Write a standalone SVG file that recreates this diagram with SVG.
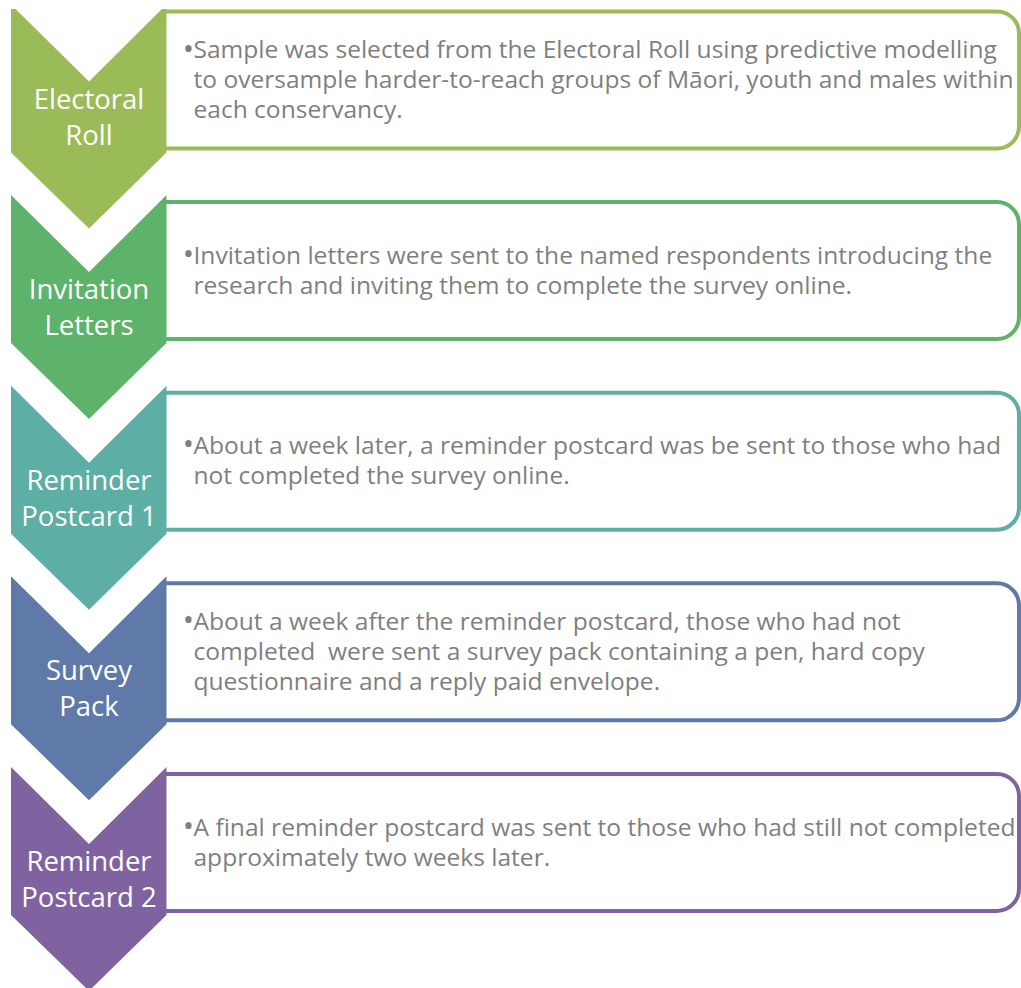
<svg xmlns="http://www.w3.org/2000/svg" width="1021" height="988" viewBox="0 0 1021 988">
<style>
.lbl{font-family:"Open Sans","Liberation Sans",sans-serif;font-size:27.5px;fill:#ffffff;text-anchor:middle}
.txt{font-family:"Open Sans","Liberation Sans",sans-serif;font-size:23px;fill:#7f7f7f}
.bul{font-family:"Open Sans","Liberation Sans",sans-serif;font-size:30px;fill:#7f7f7f;text-anchor:middle}
.box{fill:#ffffff;stroke-width:4}
</style>
<defs>
<clipPath id="clipTop" clipPathUnits="userSpaceOnUse"><rect x="0" y="4.5" width="200" height="300"/></clipPath>
</defs>
<rect width="1021" height="988" fill="#ffffff"/>
<g id="connectors"></g>
<g id="step1" transform="translate(0,4.5)">
<path class="box" stroke="#9bbb59" d="M166,7 H997 A22,22 0 0 1 1019,29 V122 A22,22 0 0 1 997,144 H166"/>
<polygon fill="#9bbb59" clip-path="url(#clipTop)" points="11,0 89,77 166.5,0 166.5,148 89,224 11,148"/>
<text class="lbl" x="89" y="104">Electoral</text>
<text class="lbl" x="89" y="140">Roll</text>
<text class="bul" x="188.5" y="54">•</text>
<g transform="matrix(1.068,0,0,1,-13.16,0)">
<text class="txt" x="193.5" y="54">Sample was selected from the Electoral Roll using predictive modelling</text>
<text class="txt" x="193.5" y="84">to oversample harder-to-reach groups of Māori, youth and males within</text>
<text class="txt" x="193.5" y="114">each conservancy.</text>
</g>
</g>
<g id="step2" transform="translate(0,195.1)">
<path class="box" stroke="#5cb369" d="M166,7 H997 A22,22 0 0 1 1019,29 V122 A22,22 0 0 1 997,144 H166"/>
<polygon fill="#5cb369" points="11,0 89,77 166.5,0 166.5,148 89,224 11,148"/>
<text class="lbl" x="89" y="104">Invitation</text>
<text class="lbl" x="89" y="140">Letters</text>
<text class="bul" x="188.5" y="68.5">•</text>
<g transform="matrix(1.068,0,0,1,-13.16,0)">
<text class="txt" x="193.5" y="68.5">Invitation letters were sent to the named respondents introducing the</text>
<text class="txt" x="193.5" y="98.5">research and inviting them to complete the survey online.</text>
</g>
</g>
<g id="step3" transform="translate(0,385.7)">
<path class="box" stroke="#5daea4" d="M166,7 H997 A22,22 0 0 1 1019,29 V122 A22,22 0 0 1 997,144 H166"/>
<polygon fill="#5daea4" points="11,0 89,77 166.5,0 166.5,148 89,224 11,148"/>
<text class="lbl" x="89" y="104">Reminder</text>
<text class="lbl" x="89" y="140">Postcard 1</text>
<text class="bul" x="188.5" y="68.5">•</text>
<g transform="matrix(1.068,0,0,1,-13.16,0)">
<text class="txt" x="193.5" y="68.5">About a week later, a reminder postcard was be sent to those who had</text>
<text class="txt" x="193.5" y="98.5">not completed the survey online.</text>
</g>
</g>
<g id="step4" transform="translate(0,576.3)">
<path class="box" stroke="#5f79a8" d="M166,7 H997 A22,22 0 0 1 1019,29 V122 A22,22 0 0 1 997,144 H166"/>
<polygon fill="#5f79a8" points="11,0 89,77 166.5,0 166.5,148 89,224 11,148"/>
<text class="lbl" x="89" y="104">Survey</text>
<text class="lbl" x="89" y="140">Pack</text>
<text class="bul" x="188.5" y="54">•</text>
<g transform="matrix(1.068,0,0,1,-13.16,0)">
<text class="txt" x="193.5" y="54">About a week after the reminder postcard, those who had not</text>
<text class="txt" x="193.5" y="84" xml:space="preserve">completed  were sent a survey pack containing a pen, hard copy</text>
<text class="txt" x="193.5" y="114">questionnaire and a reply paid envelope.</text>
</g>
</g>
<g id="step5" transform="translate(0,766.9)">
<path class="box" stroke="#7f63a0" d="M166,7 H997 A22,22 0 0 1 1019,29 V122 A22,22 0 0 1 997,144 H166"/>
<polygon fill="#7f63a0" points="11,0 89,77 166.5,0 166.5,148 89,224 11,148"/>
<text class="lbl" x="89" y="104">Reminder</text>
<text class="lbl" x="89" y="140">Postcard 2</text>
<text class="bul" x="188.5" y="69">•</text>
<g transform="matrix(1.068,0,0,1,-13.16,0)">
<text class="txt" x="193.5" y="69">A final reminder postcard was sent to those who had still not completed</text>
<text class="txt" x="193.5" y="99">approximately two weeks later.</text>
</g>
</g>
</svg>
